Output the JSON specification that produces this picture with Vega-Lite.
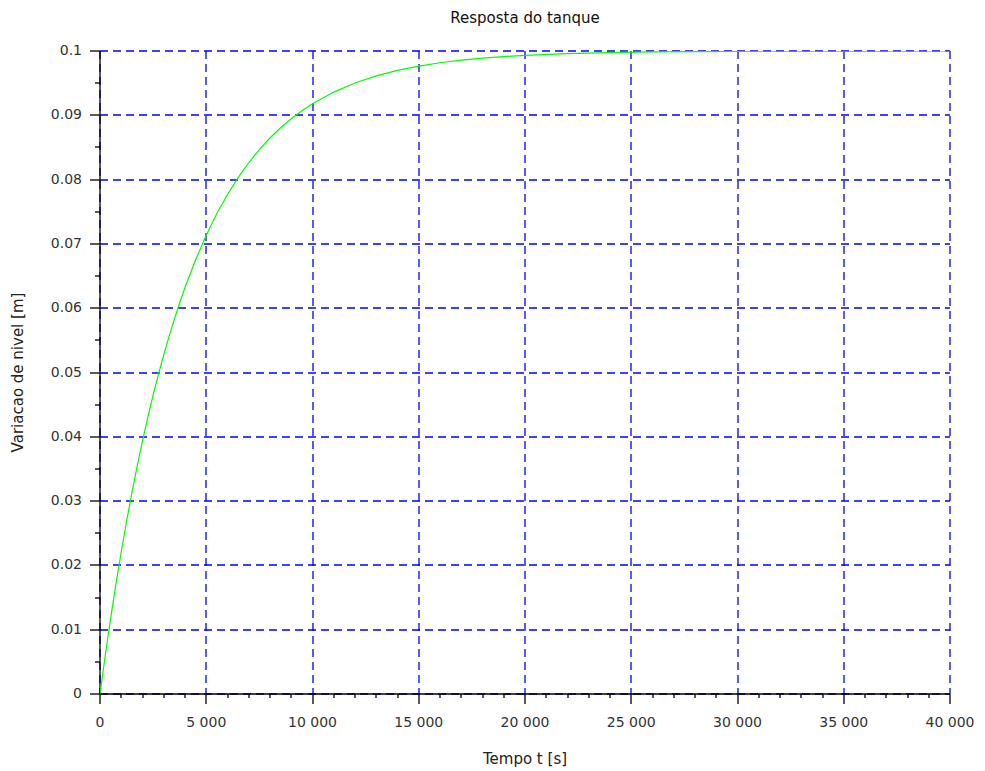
{
  "$schema": "https://vega.github.io/schema/vega-lite/v6.json",
  "width": 850,
  "height": 643,
  "autosize": {"type": "none"},
  "padding": {"left": 100, "top": 51, "right": 35, "bottom": 77},
  "background": "white",
  "title": {
    "text": "Resposta do tanque",
    "anchor": "middle",
    "font": "DejaVu Sans",
    "fontSize": 15,
    "fontWeight": "normal",
    "color": "#111111",
    "baseline": "alphabetic",
    "offset": 6
  },
  "config": {
    "view": {"stroke": null},
    "axis": {
      "labelFont": "DejaVu Sans",
      "labelFontSize": 14,
      "labelColor": "#333333",
      "labelFlush": false,
      "titleFont": "DejaVu Sans",
      "titleFontSize": 15,
      "titleFontWeight": "normal",
      "titleColor": "#222222",
      "domainColor": "#000000",
      "domainWidth": 1.3,
      "tickColor": "#000000",
      "tickWidth": 1.3,
      "gridColor": "#0000ff",
      "gridOpacity": 1,
      "gridWidth": 1.3,
      "gridDash": [8, 5],
      "translate": 0,
      "labelOverlap": false
    }
  },
  "data": {
    "values": [
      {"t": 0, "h": 0},
      {"t": 250, "h": 0.00606},
      {"t": 500, "h": 0.01175},
      {"t": 750, "h": 0.0171},
      {"t": 1000, "h": 0.02212},
      {"t": 1250, "h": 0.02684},
      {"t": 1500, "h": 0.03127},
      {"t": 1750, "h": 0.03544},
      {"t": 2000, "h": 0.03935},
      {"t": 2250, "h": 0.04302},
      {"t": 2500, "h": 0.04647},
      {"t": 2750, "h": 0.04972},
      {"t": 3000, "h": 0.05276},
      {"t": 3250, "h": 0.05563},
      {"t": 3500, "h": 0.05831},
      {"t": 3750, "h": 0.06084},
      {"t": 4000, "h": 0.06321},
      {"t": 4500, "h": 0.06753},
      {"t": 5000, "h": 0.07135},
      {"t": 5500, "h": 0.07472},
      {"t": 6000, "h": 0.07769},
      {"t": 6500, "h": 0.08031},
      {"t": 7000, "h": 0.08262},
      {"t": 7500, "h": 0.08466},
      {"t": 8000, "h": 0.08647},
      {"t": 8500, "h": 0.08806},
      {"t": 9000, "h": 0.08946},
      {"t": 9500, "h": 0.0907},
      {"t": 10000, "h": 0.09179},
      {"t": 11000, "h": 0.09361},
      {"t": 12000, "h": 0.09502},
      {"t": 13000, "h": 0.09612},
      {"t": 14000, "h": 0.09698},
      {"t": 15000, "h": 0.09765},
      {"t": 16000, "h": 0.09817},
      {"t": 17000, "h": 0.09857},
      {"t": 18000, "h": 0.09889},
      {"t": 19000, "h": 0.09913},
      {"t": 20000, "h": 0.09933},
      {"t": 22000, "h": 0.09959},
      {"t": 24000, "h": 0.09975},
      {"t": 26000, "h": 0.09985},
      {"t": 28000, "h": 0.09991},
      {"t": 30000, "h": 0.09994},
      {"t": 32000, "h": 0.09997},
      {"t": 34000, "h": 0.09998},
      {"t": 36000, "h": 0.09999},
      {"t": 38000, "h": 0.09999},
      {"t": 40000, "h": 0.1}
    ]
  },
  "resolve": {"axis": {"x": "independent", "y": "independent"}},
  "layer": [
    {
      "mark": {"type": "line", "opacity": 0},
      "encoding": {
        "x": {
          "field": "t",
          "type": "quantitative",
          "scale": {"domain": [0, 40000], "nice": false, "zero": false},
          "axis": {
            "orient": "bottom",
            "title": null,
            "labels": false,
            "domain": false,
            "grid": false,
            "tickSize": 4,
            "values": [1000,2000,3000,4000,6000,7000,8000,9000,11000,12000,13000,14000,16000,17000,18000,19000,21000,22000,23000,24000,26000,27000,28000,29000,31000,32000,33000,34000,36000,37000,38000,39000]
          }
        },
        "y": {
          "field": "h",
          "type": "quantitative",
          "scale": {"domain": [0, 0.1], "nice": false, "zero": false},
          "axis": {
            "orient": "left",
            "title": null,
            "labels": false,
            "domain": false,
            "grid": false,
            "tickSize": 5,
            "values": [0.005,0.015,0.025,0.035,0.045,0.055,0.065,0.075,0.085,0.095]
          }
        }
      }
    },
    {
      "mark": {"type": "line", "color": "#00ff00", "strokeWidth": 1.2, "clip": true},
      "encoding": {
        "x": {
          "field": "t",
          "type": "quantitative",
          "scale": {"domain": [0, 40000], "nice": false, "zero": false},
          "axis": {
            "orient": "bottom",
            "title": "Tempo t [s]",
            "titleX": 425,
            "titleY": 65,
            "titleBaseline": "middle",
            "titleAnchor": "middle",
            "values": [0,5000,10000,15000,20000,25000,30000,35000,40000],
            "labelExpr": "replace(format(datum.value, ','), ',', ' ')",
            "labelPadding": 12,
            "labelBaseline": "top",
            "tickSize": 10,
            "grid": true
          }
        },
        "y": {
          "field": "h",
          "type": "quantitative",
          "scale": {"domain": [0, 0.1], "nice": false, "zero": false},
          "axis": {
            "orient": "left",
            "title": "Variacao de nivel [m]",
            "titleX": -82,
            "titleY": 321.5,
            "titleAngle": -90,
            "titleBaseline": "middle",
            "titleAlign": "center",
            "values": [0,0.01,0.02,0.03,0.04,0.05,0.06,0.07,0.08,0.09,0.1],
            "labelExpr": "format(datum.value, '~g')",
            "labelPadding": 8,
            "tickSize": 10,
            "grid": true
          }
        }
      }
    }
  ]
}
